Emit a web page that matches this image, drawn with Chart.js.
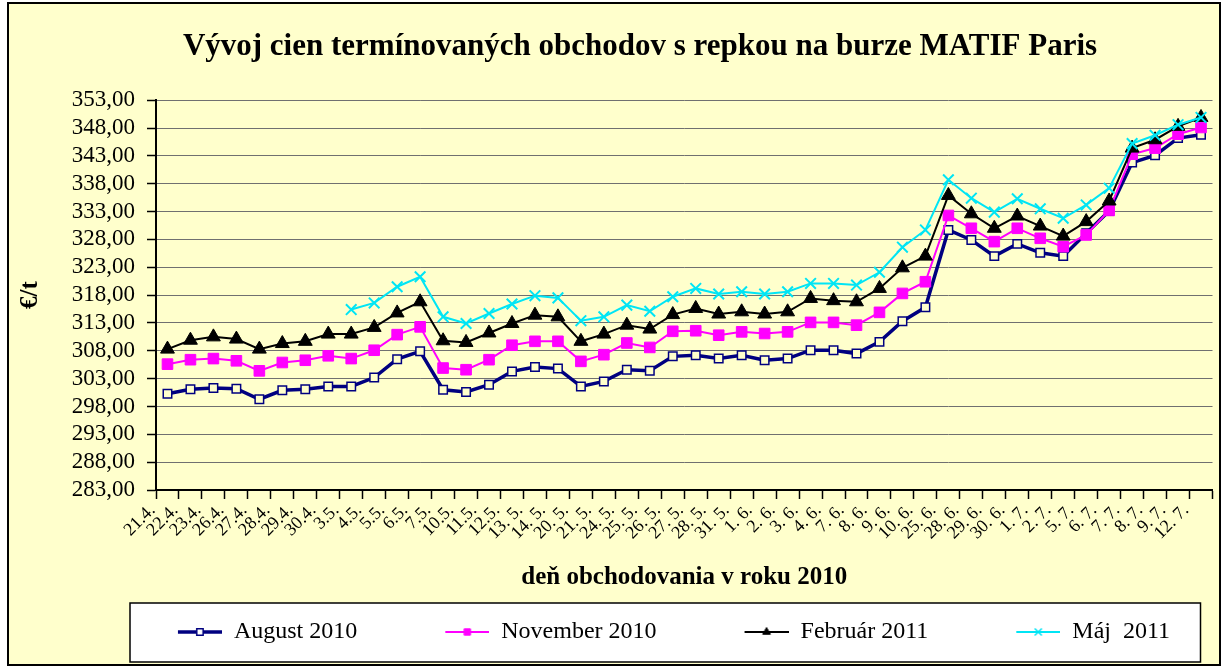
<!DOCTYPE html>
<html>
<head>
<meta charset="utf-8">
<script src="https://cdn.jsdelivr.net/npm/chart.js@4.4.1/dist/chart.umd.min.js"></script>
<style>
  body { margin: 0; background: #fff; }
</style>
</head>
<body>
<canvas id="myChart" width="1222" height="668"></canvas>
<script>
let labels = ['21.4.', '22.4.', '23.4.', '26.4.', '27.4.', '28.4.', '29.4.', '30.4.', '3.5.', '4.5.',
  '5.5.', '6.5.', '7.5.', '10.5.', '11.5.', '12.5.', '13. 5.', '14. 5.', '20. 5.', '21. 5.',
  '24. 5.', '25. 5.', '26. 5.', '27. 5.', '28. 5.', '31. 5.', '1. 6.', '2. 6.', '3. 6.', '4. 6.',
  '7. 6.', '8. 6.', '9. 6.', '10. 6.', '25. 6.', '28. 6.', '29. 6.', '30. 6.', '1. 7.', '2. 7.',
  '5. 7.', '6. 7.', '7. 7.', '8. 7.', '9. 7.', '12. 7.'];

let august = [300.3, 301.1, 301.3, 301.2, 299.3, 300.9, 301.1, 301.6, 301.6, 303.2, 306.5, 307.9,
  301.0, 300.6, 301.9, 304.3, 305.1, 304.8, 301.6, 302.5, 304.6, 304.4, 307.0, 307.2,
  306.6, 307.2, 306.3, 306.6, 308.1, 308.1, 307.5, 309.6, 313.3, 315.8,
  329.7, 327.9, 325.0, 327.2, 325.6, 325.0, 329.1, 333.1, 341.8, 343.1, 346.2, 346.8];

let november = [305.6, 306.4, 306.6, 306.2, 304.4, 305.9, 306.3, 307.1, 306.6, 308.1, 310.9, 312.3,
  304.9, 304.6, 306.4, 309.0, 309.7, 309.7, 306.1, 307.3, 309.4, 308.6, 311.5, 311.6,
  310.8, 311.4, 311.1, 311.4, 313.1, 313.1, 312.6, 314.9, 318.3, 320.4,
  332.3, 330.0, 327.6, 330.0, 328.2, 326.7, 328.8, 333.2, 343.3, 344.4, 346.9, 348.1];

let februar = [308.3, 309.9, 310.5, 310.1, 308.3, 309.3, 309.7, 311.0, 311.0, 312.2, 314.8, 316.8,
  309.8, 309.5, 311.2, 312.9, 314.4, 314.1, 309.7, 311.0, 312.6, 311.9, 314.5, 315.6,
  314.6, 315.0, 314.6, 315.0, 317.4, 317.0, 316.8, 319.2, 322.9, 325.0,
  335.9, 332.6, 330.0, 332.2, 330.4, 328.6, 331.2, 334.9, 344.4, 345.9, 348.3, 349.9];

let maj = [null, null, null, null, null, null, null, null, 315.4, 316.6, 319.5, 321.3,
  314.1, 312.9, 314.7, 316.4, 317.9, 317.5, 313.4, 314.1, 316.2, 315.1, 317.7, 319.2,
  318.2, 318.6, 318.2, 318.6, 320.1, 320.1, 319.8, 322.1, 326.6, 329.7,
  338.7, 335.4, 332.9, 335.3, 333.5, 331.8, 334.2, 337.2, 345.2, 346.7, 348.6, 349.9];

let yTicksMin = 283;
let yTicksMax = 353;
let yStep = 5;

const serif = "'Liberation Serif', 'Times New Roman', serif";
const bg = '#FFFFCC';
const SAMPLE_W = 112;

Chart.defaults.font.family = serif;
Chart.defaults.color = '#000';

// legend sample: short line with the marker in the middle, placed at the right of the image
function makeSample(color, lineW, style, radius, fill, borderW) {
  const c = document.createElement('canvas');
  c.width = SAMPLE_W;
  c.height = 24;
  const g = c.getContext('2d');
  g.strokeStyle = color;
  g.lineWidth = lineW;
  g.beginPath();
  g.moveTo(SAMPLE_W - 44, 12);
  g.lineTo(SAMPLE_W, 12);
  g.stroke();
  g.fillStyle = fill;
  g.lineWidth = borderW;
  Chart.helpers.drawPoint(g, {pointStyle: style, radius: radius, rotation: 0, borderWidth: borderW}, SAMPLE_W - 22, 12);
  return c;
}

let samples = [
  makeSample('#000080', 3.5, 'rect', 4.5, '#fff', 1.5),
  makeSample('#FF00FF', 2, 'rect', 4.5, '#FF00FF', 1),
  makeSample('#000000', 2, 'triangle', 4.5, '#000000', 1),
  makeSample('#00E5F5', 2, 'crossRot', 5, '#00E5F5', 1.5)
];

const frame = {
  id: 'frame',
  beforeDraw(chart) {
    const {ctx, width, height, chartArea, legend} = chart;
    ctx.save();
    ctx.fillStyle = '#fff';
    ctx.fillRect(0, 0, width, height);
    ctx.fillStyle = bg;
    ctx.fillRect(8, 3, width - 10, height - 6);
    ctx.strokeStyle = '#000';
    ctx.lineWidth = 2;
    ctx.strokeRect(8, 3, width - 10, height - 6);
    // white legend box
    const top = legend.top + 3;
    ctx.fillStyle = '#fff';
    ctx.fillRect(chartArea.left - 26, top, chartArea.right - chartArea.left + 14, 59);
    ctx.lineWidth = 1.5;
    ctx.strokeRect(chartArea.left - 26, top, chartArea.right - chartArea.left + 14, 59);
    ctx.restore();
  }
};

let ctx = document.getElementById('myChart').getContext('2d');

let myChart = new Chart(ctx, {
  type: 'line',
  data: {
    labels: labels,
    datasets: [{
      label: 'August 2010',
      data: august,
      borderColor: '#000080',
      borderWidth: 3.5,
      pointStyle: 'rect',
      pointRadius: 6,
      pointBackgroundColor: bg,
      pointBorderColor: '#000080',
      pointBorderWidth: 1.5,
      order: 3
    }, {
      label: 'November 2010',
      data: november,
      borderColor: '#FF00FF',
      borderWidth: 2,
      pointStyle: 'rect',
      pointRadius: 7.5,
      pointBackgroundColor: '#FF00FF',
      pointBorderColor: '#FF00FF',
      pointBorderWidth: 1,
      order: 2
    }, {
      label: 'Február 2011',
      data: februar,
      borderColor: '#000000',
      borderWidth: 2,
      pointStyle: 'triangle',
      pointRadius: 8,
      pointBackgroundColor: '#000000',
      pointBorderColor: '#000000',
      pointBorderWidth: 1,
      order: 1
    }, {
      label: 'Máj  2011',
      data: maj,
      borderColor: '#00E5F5',
      borderWidth: 2,
      pointStyle: 'crossRot',
      pointRadius: 7.5,
      pointBackgroundColor: '#00E5F5',
      pointBorderColor: '#00E5F5',
      pointBorderWidth: 2,
      order: 0
    }]
  },
  options: {
    responsive: false,
    animation: false,
    layout: {
      padding: {left: 58, right: 0, top: 10, bottom: 14}
    },
    elements: {
      line: { tension: 0 }
    },
    plugins: {
      title: {
        display: true,
        text: 'Vývoj cien termínovaných obchodov s repkou na burze MATIF Paris',
        font: { size: 31, weight: 'bold', family: serif },
        color: '#000',
        padding: { top: 18, bottom: 35 }
      },
      legend: {
        position: 'bottom',
        labels: {
          usePointStyle: true,
          pointStyleWidth: SAMPLE_W,
          padding: 20,
          color: '#000',
          font: { size: 24, family: serif },
          sort: (a, b) => a.datasetIndex - b.datasetIndex,
          generateLabels: (chart) => {
            let items = Chart.defaults.plugins.legend.labels.generateLabels(chart);
            items.forEach((item) => {
              item.pointStyle = samples[item.datasetIndex];
            });
            return items;
          }
        }
      },
      tooltip: { enabled: false }
    },
    scales: {
      x: {
        type: 'category',
        offset: true,
        afterFit: (scale) => { scale.height = 110; },
        border: { display: true, color: '#000', width: 2 },
        grid: {
          display: true,
          offset: true,
          drawOnChartArea: false,
          drawTicks: true,
          tickLength: 9,
          tickColor: '#000',
          tickWidth: 1.5
        },
        ticks: {
          autoSkip: false,
          minRotation: 45,
          maxRotation: 45,
          labelOffset: -15,
          padding: 1,
          color: '#000',
          font: { size: 18, family: serif }
        },
        title: {
          display: true,
          text: 'deň obchodovania v roku 2010',
          color: '#000',
          font: { size: 25, weight: 'bold', family: serif },
          padding: { top: 0, bottom: 7 }
        }
      },
      y: {
        min: yTicksMin,
        max: yTicksMax,
        afterFit: (scale) => { scale.width = 98; },
        border: { display: true, color: '#000', width: 2 },
        grid: {
          color: '#707070',
          lineWidth: 1,
          borderDash: [3, 2],
          tickBorderDash: [],
          tickLength: 9,
          tickColor: '#000',
          tickWidth: 1.5
        },
        ticks: {
          stepSize: yStep,
          autoSkip: false,
          padding: 12,
          color: '#000',
          font: { size: 23, family: serif },
          callback: (value) => value.toFixed(2).replace('.', ',')
        },
        title: {
          display: true,
          text: '€/t',
          color: '#000',
          font: { size: 25, weight: 'bold', family: serif },
          padding: { top: -42, bottom: 0 }
        }
      }
    }
  },
  plugins: [frame]
});
</script>
</body>
</html>
